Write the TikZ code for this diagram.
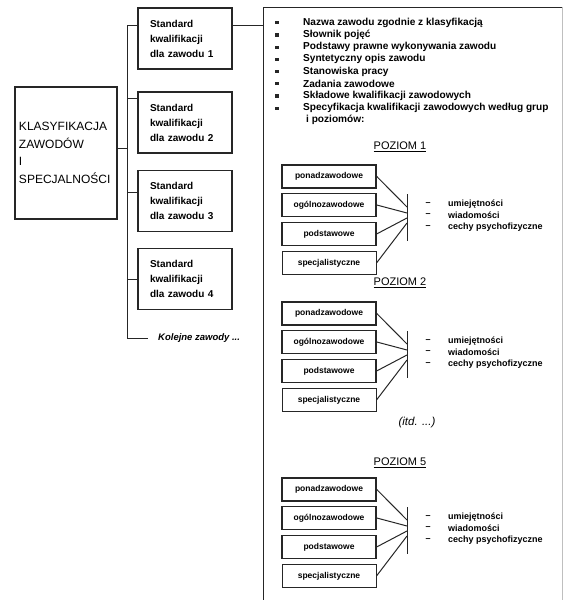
\documentclass[tikz,border=0pt]{standalone}
\usepackage{fontspec}
\setmainfont{Liberation Sans}
\newcommand\lvlblock[2]{%
  \node[lvlbox, line width=1.6pt] (#1a) at (329,#2+11.5) {ponadzawodowe};
  \node[lvlbox, line width=1.6pt] (#1b) at (329,#2+40) {ogólnozawodowe};
  \node[lvlbox, line width=1.2pt] (#1c) at (329,#2+69) {podstawowe};
  \node[lvlbox, line width=1.0pt] (#1d) at (329,#2+98) {specjalistyczne};
  \coordinate (#1top) at (407,#2+29);
  \coordinate (#1bot) at (407,#2+76);
  \coordinate (#1p1) at (407,#2+42);
  \coordinate (#1p2) at (407,#2+48);
  \coordinate (#1p3) at (407,#2+53);
  \coordinate (#1p4) at (407,#2+58);
  \draw[line] (#1top) -- (#1bot);
  \draw[line] (#1a.east) -- (#1p1);
  \draw[line] (#1b.east) -- (#1p2);
  \draw[line] (#1c.east) -- (#1p3);
  \draw[line] (#1d.east) -- (#1p4);
  \node[dashtxt] (#1d1) at (428,#2+39) {–};
  \node[dashtxt] (#1d2) at (428,#2+50) {–};
  \node[dashtxt] (#1d3) at (428,#2+62) {–};
  \node[feattxt] (#1f1) at (448,#2+39) {umiejętności};
  \node[feattxt] (#1f2) at (448,#2+50) {wiadomości};
  \node[feattxt] (#1f3) at (448,#2+62) {cechy psychofizyczne};
}
\begin{document}
\begin{tikzpicture}[x=1pt,y=-1pt,
  line/.style={draw=black!85, line width=1pt},
  bigbox/.style={draw=black!85, line width=1.2pt, minimum width=102pt, minimum height=132pt,
    inner xsep=4pt, inner ysep=0pt, text width=94pt, align=left,
    font=\fontsize{12}{17.7}\selectfont},
  stdbox/.style={draw=black!85, line width=1.2pt, minimum width=94pt, minimum height=61pt,
    inner xsep=12pt, inner ysep=0pt, text width=70pt, align=left,
    font=\fontsize{10}{15}\selectfont\bfseries},
  lvlbox/.style={draw=black!85, minimum width=94pt, minimum height=23pt, inner sep=0pt,
    font=\fontsize{8.5}{10}\selectfont\bfseries},
  dashtxt/.style={inner sep=0pt, font=\fontsize{9}{10}\selectfont\bfseries},
  feattxt/.style={anchor=west, inner sep=0pt, font=\fontsize{9}{10}\selectfont\bfseries},
  itemtxt/.style={anchor=west, inner sep=0pt, font=\fontsize{10.1}{11}\selectfont\bfseries},
  bullet/.style={fill=black!85, minimum size=3.2pt, inner sep=0pt},
  poziom/.style={inner sep=0pt, font=\fontsize{11}{12}\selectfont},
]
\useasboundingbox (0,0) rectangle (563,600);

% left big box
\node[bigbox] (kz) at (66,153) {KLASYFIKACJA\\ZAWODÓW\\I\\SPECJALNOŚCI};

% standard boxes
\node[stdbox] (s1) at (185,38.5) {Standard\\kwalifikacji\\dla zawodu 1};
\node[stdbox] (s2) at (185,122.5) {Standard\\kwalifikacji\\dla zawodu 2};
\node[stdbox] (s3) at (185,201) {Standard\\kwalifikacji\\dla zawodu 3};
\node[stdbox] (s4) at (185,279) {Standard\\kwalifikacji\\dla zawodu 4};

% trunk
\coordinate (ttop) at (127,25);
\coordinate (tbot) at (127,338);
\coordinate (tmid) at (127,148);
\coordinate (b2) at (127,98);
\coordinate (b3) at (127,192);
\coordinate (b4) at (127,279);
\coordinate (kend) at (148,338);
\draw[line] (ttop) -- (tbot) -- (kend);
\draw[line] (kz.east |- tmid) -- (tmid);
\draw[line] (ttop) -- (s1.west |- ttop);
\draw[line] (b2) -- (s2.west |- b2);
\draw[line] (b3) -- (s3.west |- b3);
\draw[line] (b4) -- (s4.west |- b4);
\node[anchor=west, inner sep=0pt, font=\fontsize{9.5}{10}\selectfont\bfseries\itshape] (kol) at (158,338) {Kolejne zawody ...};

% right panel
\coordinate (ptl) at (263,7);
\coordinate (pbl) at (263,600);
\coordinate (ptr) at (563,7);
\coordinate (pj) at (263,25);
\draw[line] (pbl) -- (ptl) -- (ptr);
\draw[draw=black!25, line width=0.8pt] (562,7) -- (562,600);
\draw[line] (s1.east |- pj) -- (pj);

% bullet list
\foreach \t [count=\i from 0] in {Nazwa zawodu zgodnie z klasyfikacją, Słownik pojęć, Podstawy prawne wykonywania zawodu, Syntetyczny opis zawodu, Stanowiska pracy, Zadania zawodowe, Składowe kwalifikacji zawodowych, Specyfikacja kwalifikacji zawodowych według grup}{
  \node[bullet] (bu\i) at (277,22.7+12.2*\i) {};
  \node[itemtxt] (it\i) at (303,22.7+12.2*\i) {\t};
}
\node[itemtxt] (it8) at (306,120) {i poziomów:};

% levels
\node[poziom] (pz1) at (400,147) {\underline{POZIOM 1}};
\lvlblock{A}{165}
\node[poziom] (pz2) at (400,283) {\underline{POZIOM 2}};
\lvlblock{B}{302}
\node[inner sep=0pt, font=\fontsize{11.5}{12}\selectfont\itshape] (itd) at (417,423) {(itd. ...)};
\node[poziom] (pz5) at (400,463) {\underline{POZIOM 5}};
\lvlblock{C}{478}
\end{tikzpicture}
\end{document}
